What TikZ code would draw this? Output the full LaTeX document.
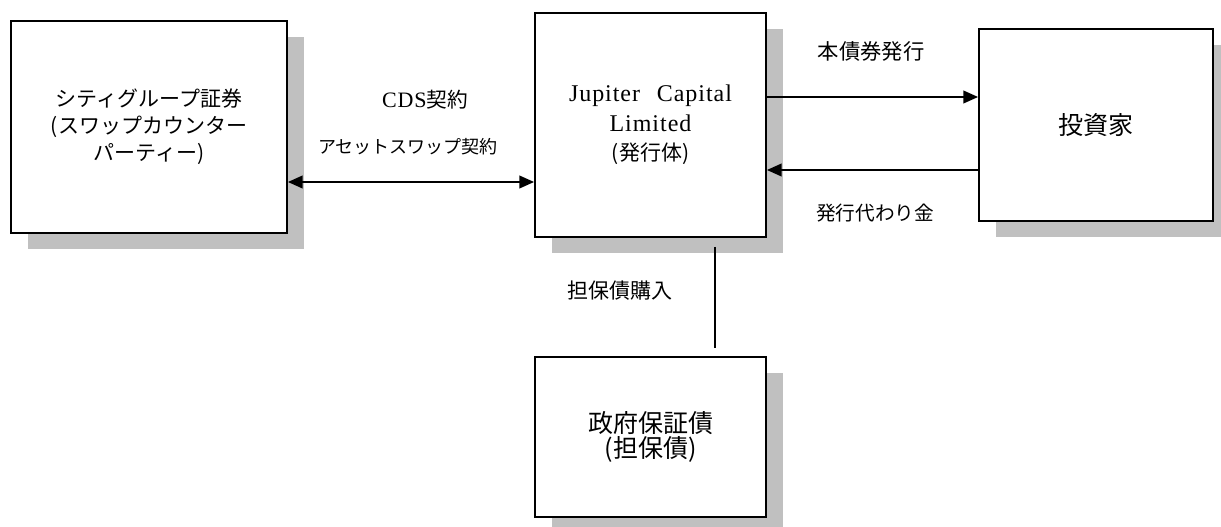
\documentclass[tikz,border=0pt]{standalone}
\usepackage{fontspec}
\setmainfont{Noto Sans CJK JP}
\newfontfamily\lat[LetterSpace=4]{Liberation Serif}
\usetikzlibrary{arrows.meta,shadows}
\definecolor{shade}{RGB}{192,192,192}
\tikzset{
  box/.style={draw=black, line width=1.4pt, fill=white, inner sep=0pt, align=center,
    drop shadow={shadow xshift=12.75pt, shadow yshift=-12pt, fill=shade, opacity=1}},
  lbl/.style={inner sep=0pt, font=\fontsize{15.5}{18}\selectfont},
  arr/.style={line width=1.3pt, -{Triangle[length=11pt,width=9.5pt]}},
  darr/.style={line width=1.3pt, {Triangle[length=11pt,width=9.5pt]}-{Triangle[length=11pt,width=9.5pt]}},
  plain/.style={line width=1.3pt}
}
\begin{document}
\begin{tikzpicture}[x=0.75pt,y=-0.75pt]
\path[use as bounding box] (0,0) rectangle (1221,527);
\clip (0,0) rectangle (1221,527);
\node[box, minimum width=207pt, minimum height=159pt, font=\fontsize{15.75}{20.25}\selectfont] (A) at (149,127)
  {シティグループ証券\\(スワップカウンター\\パーティー)};
\node[box, minimum width=173.25pt, minimum height=168pt, font=\fontsize{15.75}{22}\selectfont] (B) at (650.5,125)
  {{\fontsize{18}{22}\selectfont\lat Jupiter\hspace{0.7em}Capital}\\{\fontsize{18}{22}\selectfont\lat Limited}\\(発行体)};
\node[box, minimum width=175.5pt, minimum height=144pt, font=\fontsize{18.75}{22}\selectfont] (C) at (1096,125) {投資家};
\node[box, minimum width=173.25pt, minimum height=120pt, font=\fontsize{18.75}{18.5}\selectfont] (D) at (650.5,437)
  {政府保証債\\(担保債)};
% labels
\node[lbl] (cds) at (425,100) {{\fontsize{16.5}{18}\selectfont\lat CDS}契約};
\node[lbl, font=\fontsize{13.5}{16}\selectfont] (asw) at (408,147) {アセットスワップ契約};
\node[lbl, font=\fontsize{16}{18}\selectfont] (hon) at (871,51) {本債券発行};
\node[lbl, font=\fontsize{14.75}{18}\selectfont] (dai) at (875,213) {発行代わり金};
\node[lbl, font=\fontsize{15.75}{18}\selectfont] (tan) at (620,291) {担保債購入};
% connectors
\draw[darr] (A.east |- 0,182) -- (B.west |- 0,182);
\draw[arr] (B.east |- 0,97) -- (C.west |- 0,97);
\draw[arr] (C.west |- 0,170) -- (B.east |- 0,170);
\coordinate (bd1) at (715,247);
\coordinate (bd2) at (715,348);
\draw[plain] (bd1) -- (bd2);
\end{tikzpicture}
\end{document}
